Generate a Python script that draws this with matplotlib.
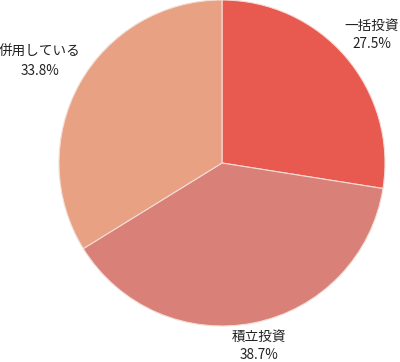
import numpy as np
import matplotlib
matplotlib.use("Agg")
import matplotlib.pyplot as plt

plt.rcParams['font.family'] = ['Noto Sans CJK JP', 'DejaVu Sans']

# データ
labels = ["一括投資", "積立投資", "併用している"]
shares = [27.5, 38.7, 33.8]
colors = ["#E85A4F", "#D98078", "#E8A182"]
label_dist = [1.21, 1.145, 1.28]

fig = plt.figure(figsize=(4.0, 3.62), dpi=100)
ax = fig.add_axes([0, 0, 1, 1])

cx, cy, r = 222, 199, 163
wedges, _ = ax.pie(shares, colors=colors, startangle=90, counterclock=False,
                   center=(cx, cy), radius=r, frame=True,
                   wedgeprops=dict(edgecolor="#f3ddd6", linewidth=0.8))
ax.set_xlim(0, 400)
ax.set_ylim(0, 362)
ax.set_aspect("equal")
ax.axis("off")

for w, lab, s, d in zip(wedges, labels, shares, label_dist):
    ang = np.deg2rad((w.theta1 + w.theta2) / 2)
    x = cx + d * r * np.cos(ang)
    y = cy + d * r * np.sin(ang)
    ax.text(x, y, "{}\n{:.1f}%".format(lab, s), ha="center", va="center",
            fontsize=9.8, color="#222222", linespacing=1.45)

fig.savefig("out.png", dpi=100)
